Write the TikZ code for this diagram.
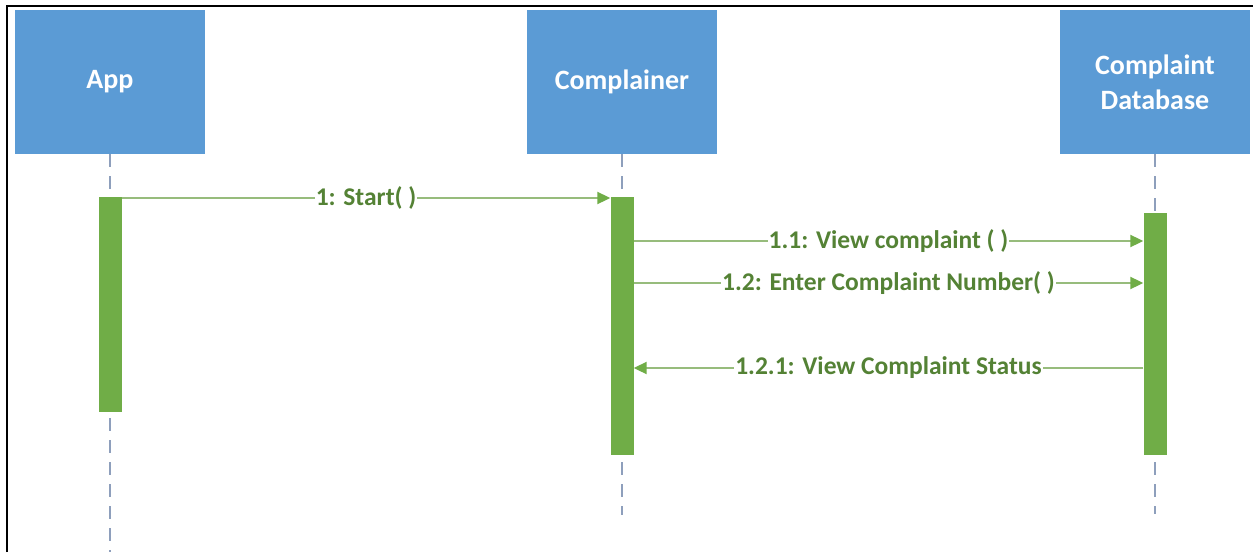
\documentclass[tikz,border=0pt]{standalone}
\usepackage{fontspec}
\setmainfont{Carlito}
\usetikzlibrary{arrows.meta}
\definecolor{boxblue}{HTML}{5B9BD5}
\definecolor{actgreen}{HTML}{70AD47}
\definecolor{msgline}{HTML}{97BC7C}
\definecolor{msgtext}{HTML}{548235}
\definecolor{lifegray}{HTML}{8E9FBC}
\tikzset{
  actor/.style={fill=boxblue, draw=none, minimum width=190pt, minimum height=144pt,
    text=white, align=center, font=\fontsize{28}{35}\selectfont\bfseries, inner sep=0pt},
  lifeline/.style={draw=lifegray, line width=1.6pt, dash pattern=on 13pt off 9pt},
  activation/.style={fill=actgreen, draw=none, minimum width=23pt, inner sep=0pt},
  msg/.style={draw=msgline, line width=2pt,
    -{Triangle[length=13pt,width=12pt,color=actgreen]}},
  lbl/.style={fill=white, text=msgtext, inner sep=1pt,
    font=\fontsize{25.5}{28}\selectfont\bfseries},
}
\begin{document}
\begin{tikzpicture}[x=1pt,y=-1pt]
  \useasboundingbox (0,0) rectangle (1253,552);
  \fill[white] (0,0) rectangle (1253,552);
  % frame
  \draw[line width=1.5pt] (7,552) -- (7,6) -- (1253,6);

  % participants
  \node[actor] (app) at (110,82) {App};
  \node[actor] (cmp) at (622,82) {Complainer};
  \node[actor] (db)  at (1155,82) {Complaint\\Database};

  % lifeline ends
  \coordinate (append) at (110,552);
  \coordinate (cmpend) at (622,515);
  \coordinate (dbend)  at (1155,514);
  \draw[lifeline] (app.south) -- (append);
  \draw[lifeline] (cmp.south) -- (cmpend);
  \draw[lifeline] (db.south)  -- (dbend);

  % activation bars
  \node[activation, minimum height=215pt] (appact) at (110,304.5) {};
  \node[activation, minimum height=258pt] (cmpact) at (622,326) {};
  \node[activation, minimum height=242pt] (dbact)  at (1155,334) {};

  % messages
  \draw[msg] (appact.east |- 0,198) -- node[lbl] {1: Start( )} (cmpact.west |- 0,198);
  \draw[msg] (cmpact.east |- 0,241) -- node[lbl] {1.1: View complaint ( )} (dbact.west |- 0,241);
  \draw[msg] (cmpact.east |- 0,283) -- node[lbl] {1.2: Enter Complaint Number( )} (dbact.west |- 0,283);
  \draw[msg] (dbact.west |- 0,368) -- node[lbl] {1.2.1: View Complaint Status} (cmpact.east |- 0,368);
\end{tikzpicture}
\end{document}
